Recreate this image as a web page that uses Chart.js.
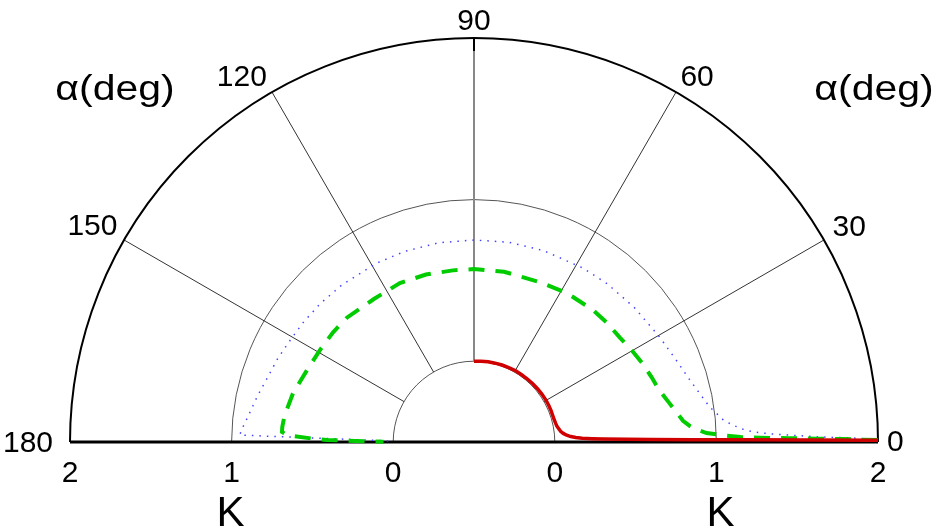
<!DOCTYPE html>
<html>
<head>
<meta charset="utf-8">
<script src="https://cdn.jsdelivr.net/npm/chart.js@4"></script>
<style>
  body { margin: 0; background: #fff; }
  #wrap { width: 938px; height: 531px; }
</style>
</head>
<body>
<div id="wrap"><canvas id="myChart"></canvas></div>
<script>
// polar half-plot: angle alpha (deg) vs K
const angleTicks = [0, 30, 60, 90, 120, 150, 180];
const kTicks = [0, 1, 2];
const kOffset = 0.5; // K = 0 sits on a small inner circle
const kMax = 2;

const redAlpha = [90, 85, 80, 75, 70, 65, 60, 55, 50, 45, 40, 35, 30, 26, 22, 19, 16, 13, 11, 9, 7, 5.5, 4.2, 3.2, 2.5, 2, 1.6, 1.3, 1.0, 0.8, 0.6, 0.45, 0.35, 0.25];
const redK = [0, 0.002, 0.004, 0.005, 0.007, 0.008, 0.01, 0.01, 0.011, 0.012, 0.013, 0.014, 0.015, 0.015, 0.015, 0.014, 0.015, 0.018, 0.022, 0.03, 0.04, 0.055, 0.075, 0.1, 0.13, 0.17, 0.23, 0.3, 0.45, 0.6, 0.85, 1.2, 1.6, 2.0];

const blueAlpha = [0.3, 0.45, 0.6, 0.83, 1.05, 1.28, 1.6, 2.05, 2.8, 3.75, 5, 6.8, 8.4, 12, 16, 22, 29.4, 40, 50, 58, 70, 80, 90, 100, 110, 118.5, 130, 138, 145, 151, 157, 163, 168, 172, 175, 177, 178.3, 178.4, 178.5, 178.65, 178.9, 179.3];
const blueK = [2.0, 1.93, 1.85, 1.64, 1.54, 1.44, 1.33, 1.23, 1.16, 1.105, 1.05, 1.01, 0.975, 0.93, 0.89, 0.85, 0.82, 0.795, 0.78, 0.77, 0.76, 0.755, 0.75, 0.752, 0.755, 0.76, 0.77, 0.78, 0.79, 0.8, 0.82, 0.84, 0.87, 0.895, 0.92, 0.94, 0.95, 0.76, 0.575, 0.39, 0.2, 0.02];

const greenAlpha = [0.27, 0.35, 0.45, 0.55, 0.7, 0.85, 1.05, 1.5, 2.2, 3.2, 4.2, 5.8, 8.1, 11.5, 15.6, 20, 25, 30, 35.7, 42, 48, 58, 67.6, 80, 90, 97, 106, 115, 125, 135.5, 142, 149, 156.7, 161, 165, 170, 173, 175.5, 177, 177.8, 178.1, 178.8, 179.2, 179.5, 179.9];
const greenK = [2.0, 1.9, 1.78, 1.62, 1.45, 1.27, 1.15, 1.05, 0.94, 0.88, 0.84, 0.8, 0.77, 0.73, 0.69, 0.67, 0.65, 0.63, 0.61, 0.605, 0.6, 0.586, 0.57, 0.57, 0.57, 0.57, 0.578, 0.585, 0.58, 0.6, 0.605, 0.61, 0.625, 0.64, 0.66, 0.675, 0.685, 0.69, 0.69, 0.66, 0.62, 0.5, 0.41, 0.235, 0.06];

function toPoints(alphas, ks) {
  return alphas.map((a, i) => {
    const t = a * Math.PI / 180;
    const r = ks[i] + kOffset;
    return { x: r * Math.cos(t), y: r * Math.sin(t) };
  });
}

const fontFamily = '"Liberation Sans", Arial, sans-serif';
// where the angle labels sit: extra radius (px) and small angle nudge (deg)
const labelPlace = {
  30: [28, -0.3],
  60: [23, -1.5],
  90: [16, 0],
  120: [28, 2.5],
  150: [34, 0.6],
};

const polarGrid = {
  id: "polarGrid",
  beforeDatasetsDraw(chart) {
    const { ctx, scales: { x, y } } = chart;
    const cx = x.getPixelForValue(0);
    const cy = y.getPixelForValue(0);
    const unit = x.getPixelForValue(1) - cx;
    const rOf = (k) => (k + kOffset) * unit;
    const rOut = rOf(kMax);
    ctx.save();
    // inner circles
    ctx.strokeStyle = "#555";
    ctx.lineWidth = 1;
    kTicks.slice(0, -1).forEach((k) => {
      ctx.beginPath();
      ctx.arc(cx, cy, rOf(k), Math.PI, 2 * Math.PI);
      ctx.stroke();
    });
    // spokes
    angleTicks.forEach((a) => {
      if (a === 0 || a === 180) return;
      const t = a * Math.PI / 180;
      ctx.strokeStyle = a === 90 ? "#888" : "#333";
      ctx.lineWidth = a === 90 ? 2 : 1;
      ctx.beginPath();
      ctx.moveTo(cx + rOf(0) * Math.cos(t), cy - rOf(0) * Math.sin(t));
      ctx.lineTo(cx + rOut * Math.cos(t), cy - rOut * Math.sin(t));
      ctx.stroke();
    });
    // outer arc
    ctx.strokeStyle = "#000";
    ctx.lineWidth = 2;
    ctx.beginPath();
    ctx.arc(cx, cy, rOut, Math.PI, 2 * Math.PI);
    ctx.stroke();
    // tick at 90
    ctx.beginPath();
    ctx.moveTo(cx, cy - rOut);
    ctx.lineTo(cx, cy - rOut + 13);
    ctx.stroke();
    // base line
    ctx.lineWidth = 3;
    ctx.beginPath();
    ctx.moveTo(cx - rOut, cy);
    ctx.lineTo(cx + rOut, cy);
    ctx.stroke();
    ctx.restore();
  },
  afterDraw(chart) {
    const { ctx, scales: { x, y } } = chart;
    const cx = x.getPixelForValue(0);
    const cy = y.getPixelForValue(0);
    const unit = x.getPixelForValue(1) - cx;
    const rOut = (kMax + kOffset) * unit;
    ctx.save();
    ctx.fillStyle = "#000";
    ctx.textBaseline = "middle";
    ctx.font = "30px " + fontFamily;
    // angle labels
    angleTicks.forEach((a) => {
      if (a === 0) {
        ctx.textAlign = "left";
        ctx.fillText(String(a), cx + rOut + 9, cy + 1);
      } else if (a === 180) {
        ctx.textAlign = "right";
        ctx.fillText(String(a), cx - rOut - 17, cy + 2);
      } else {
        const [d, nudge] = labelPlace[a];
        const t = (a + nudge) * Math.PI / 180;
        ctx.textAlign = "center";
        ctx.fillText(String(a), cx + (rOut + d) * Math.cos(t), cy - (rOut + d) * Math.sin(t));
      }
    });
    // K tick labels on both sides
    ctx.textAlign = "center";
    kTicks.forEach((k) => {
      const r = (k + kOffset) * unit;
      ctx.fillText(String(k), cx - r, cy + 32);
      ctx.fillText(String(k), cx + r, cy + 32);
    });
    // axis titles
    ctx.font = "42px " + fontFamily;
    const r1 = (1 + kOffset) * unit;
    ctx.fillText("K", cx - r1 - 1, cy + 72);
    ctx.fillText("K", cx + r1 + 4, cy + 72);
    ctx.font = "35px " + fontFamily;
    [115, 874].forEach((px) => {
      ctx.save();
      ctx.translate(px, 90);
      ctx.scale(1.17, 1);
      ctx.fillText("\u03b1(deg)", 0, 0);
      ctx.restore();
    });
    ctx.restore();
  },
};

const ctx = document.getElementById("myChart");
new Chart(ctx, {
  type: "scatter",
  data: {
    datasets: [
      {
        label: "red",
        data: toPoints(redAlpha, redK),
        showLine: true,
        borderColor: "#d00000",
        borderWidth: 3.5,
        pointRadius: 0,
        clip: false,
      },
      {
        label: "green",
        data: toPoints(greenAlpha, greenK),
        showLine: true,
        borderColor: "#00cc00",
        borderWidth: 4,
        borderDash: [16, 11],
        pointRadius: 0,
        clip: false,
      },
      {
        label: "blue",
        data: toPoints(blueAlpha, blueK),
        showLine: true,
        borderColor: "#4444ff",
        borderWidth: 1.5,
        borderDash: [1.5, 6],
        pointRadius: 0,
        clip: false,
      },
    ],
  },
  options: {
    responsive: true,
    maintainAspectRatio: false,
    animation: false,
    layout: { padding: { left: 70, right: 60, top: 38, bottom: 89 } },
    scales: {
      x: { type: "linear", min: -(kMax + kOffset), max: kMax + kOffset, display: false },
      y: { type: "linear", min: 0, max: kMax + kOffset, display: false },
    },
    plugins: {
      legend: { display: false },
      tooltip: { enabled: false },
    },
  },
  plugins: [polarGrid],
});
</script>
</body>
</html>
